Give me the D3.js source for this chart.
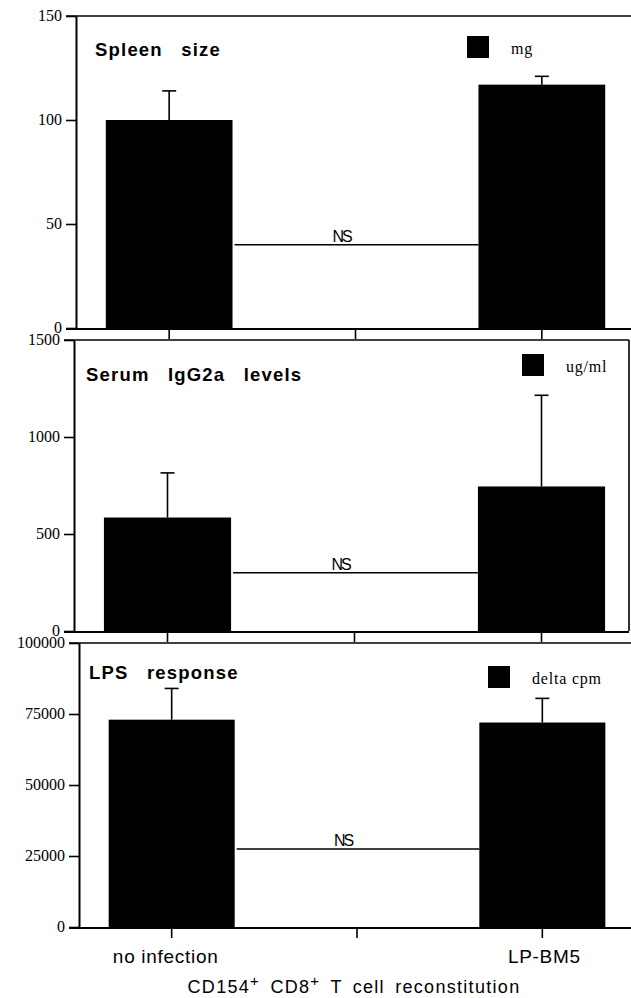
<!DOCTYPE html>
<html>
<head>
<meta charset="utf-8">
<script src="https://cdn.jsdelivr.net/npm/d3@7"></script>
<style>
  body { margin: 0; background: #fff; }
</style>
</head>
<body>
<svg id="chart" width="631" height="998"></svg>
<script>
var categories = ['no infection', 'LP-BM5'];

var spleenValues = [100, 117];
var spleenErrors = [14, 4];
var spleenTicks = [0, 50, 100, 150];

var iggValues = [585, 745];
var iggErrors = [230, 470];
var iggTicks = [0, 500, 1000, 1500];

var lpsValues = [73000, 72000];
var lpsErrors = [11000, 8500];
var lpsTicks = [0, 25000, 50000, 75000, 100000];

var panels = [
    {title: 'Spleen size', unit: 'mg', values: spleenValues, errors: spleenErrors, ticks: spleenTicks,
     max: 150, top: 16, bottom: 328, axisX: 76, titleX: 95, titleY: 56, legendX: 467, legendY: 36, nsY: 40, rightBorder: false},
    {title: 'Serum IgG2a levels', unit: 'ug/ml', values: iggValues, errors: iggErrors, ticks: iggTicks,
     max: 1500, top: 340, bottom: 631, axisX: 74, titleX: 86, titleY: 381, legendX: 522, legendY: 354, nsY: 300, rightBorder: true},
    {title: 'LPS response', unit: 'delta cpm', values: lpsValues, errors: lpsErrors, ticks: lpsTicks,
     max: 100000, top: 643, bottom: 927, axisX: 79, titleX: 89, titleY: 679, legendX: 488, legendY: 666, nsY: 27500, rightBorder: false}
];

var svg = d3.select('#chart');

panels.forEach(function (p) {
    var g = svg.append('g');
    var y = d3.scaleLinear().domain([0, p.max]).range([p.bottom, p.top]);
    var x = d3.scaleBand().domain(categories).range([p.axisX, 635])
        .paddingInner(0.66).paddingOuter(0.08);
    var cx = function (d) { return x(d) + x.bandwidth() / 2; };
    var right = p.rightBorder ? 629 : 631;

    // top border
    g.append('line')
        .attr('x1', p.axisX - 10).attr('x2', right)
        .attr('y1', p.top).attr('y2', p.top)
        .attr('stroke', '#000').attr('stroke-width', 1.6);
    if (p.rightBorder) {
        g.append('line')
            .attr('x1', right).attr('x2', right)
            .attr('y1', p.top).attr('y2', p.bottom)
            .attr('stroke', '#000').attr('stroke-width', 1.6);
    }

    // bars
    g.selectAll('rect.bar').data(categories).enter().append('rect')
        .attr('class', 'bar')
        .attr('x', function (d) { return x(d); })
        .attr('width', x.bandwidth())
        .attr('y', function (d, i) { return y(p.values[i]); })
        .attr('height', function (d, i) { return p.bottom - y(p.values[i]); })
        .attr('fill', '#000');

    // error bars (upper only)
    var err = g.selectAll('g.err').data(categories).enter().append('g').attr('class', 'err');
    err.append('line')
        .attr('x1', cx).attr('x2', cx)
        .attr('y1', function (d, i) { return y(p.values[i]); })
        .attr('y2', function (d, i) { return y(p.values[i] + p.errors[i]); })
        .attr('stroke', '#000').attr('stroke-width', 1.6);
    err.append('line')
        .attr('x1', function (d) { return cx(d) - 7; })
        .attr('x2', function (d) { return cx(d) + 7; })
        .attr('y1', function (d, i) { return y(p.values[i] + p.errors[i]); })
        .attr('y2', function (d, i) { return y(p.values[i] + p.errors[i]); })
        .attr('stroke', '#000').attr('stroke-width', 1.6);

    // NS line
    var nsLeft = x(categories[0]) + x.bandwidth() + 2;
    var nsRight = x(categories[1]);
    g.append('line')
        .attr('x1', nsLeft).attr('x2', nsRight)
        .attr('y1', y(p.nsY)).attr('y2', y(p.nsY))
        .attr('stroke', '#000').attr('stroke-width', 1.5);
    g.append('text')
        .attr('x', (nsLeft + nsRight) / 2 - 24)
        .attr('y', y(p.nsY) - 3)
        .attr('font-family', 'Liberation Sans, Arial, sans-serif')
        .attr('font-size', 16).attr('letter-spacing', -2)
        .text('NS');

    // left axis
    var axis = g.append('g')
        .attr('transform', 'translate(' + p.axisX + ',0)')
        .call(d3.axisLeft(y).tickValues(p.ticks).tickSize(10).tickSizeOuter(0).tickPadding(4)
            .tickFormat(d3.format('d')));
    axis.select('.domain').attr('stroke-width', 2);
    axis.selectAll('.tick line').attr('stroke-width', 1.6);
    axis.selectAll('.tick text')
        .attr('dy', '0.3em')
        .attr('font-family', 'Liberation Serif, serif')
        .attr('font-size', 16)
        .attr('fill', '#000');

    // bottom line and ticks
    g.append('line')
        .attr('x1', p.axisX - 10).attr('x2', right)
        .attr('y1', p.bottom + 1).attr('y2', p.bottom + 1)
        .attr('stroke', '#000').attr('stroke-width', 2);
    var tickXs = [cx(categories[0]), (cx(categories[0]) + cx(categories[1])) / 2, cx(categories[1])];
    g.selectAll('line.xt').data(tickXs).enter().append('line')
        .attr('class', 'xt')
        .attr('x1', function (d) { return d; }).attr('x2', function (d) { return d; })
        .attr('y1', p.bottom + 1).attr('y2', p.bottom + 11)
        .attr('stroke', '#000').attr('stroke-width', 1.6);

    // title
    g.append('text')
        .attr('x', p.titleX)
        .attr('y', p.titleY)
        .attr('font-family', 'Liberation Sans, Arial, sans-serif')
        .attr('font-weight', 'bold').attr('font-size', 18.5)
        .attr('letter-spacing', 1.2).attr('word-spacing', 12)
        .text(p.title);

    // legend
    g.append('rect')
        .attr('x', p.legendX).attr('y', p.legendY)
        .attr('width', 22).attr('height', 22).attr('fill', '#000');
    g.append('text')
        .attr('x', p.legendX + 44).attr('y', p.legendY + 18)
        .attr('font-family', 'Liberation Serif, serif')
        .attr('font-size', 16).attr('letter-spacing', 0.8)
        .text(p.unit);

    p.cx = cx;
});

// category labels
var last = panels[2];
var catShift = [-6, 2];
svg.selectAll('text.cat').data(categories).enter().append('text')
    .attr('class', 'cat')
    .attr('x', function (d, i) { return last.cx(d) + catShift[i]; })
    .attr('y', 963)
    .attr('text-anchor', 'middle')
    .attr('font-family', 'Liberation Sans, Arial, sans-serif')
    .attr('font-size', 19).attr('letter-spacing', 0.7)
    .text(function (d) { return d; });

var xt = svg.append('text')
    .attr('x', 354).attr('y', 993)
    .attr('text-anchor', 'middle')
    .attr('font-family', 'Liberation Sans, Arial, sans-serif')
    .attr('font-size', 18).attr('letter-spacing', 1.3).attr('word-spacing', 4);
xt.append('tspan').text('CD154');
xt.append('tspan').attr('dy', -7).attr('font-size', 15).text('+');
xt.append('tspan').attr('dy', 7).text(' CD8');
xt.append('tspan').attr('dy', -7).attr('font-size', 15).text('+');
xt.append('tspan').attr('dy', 7).text('  T cell reconstitution');
</script>
</body>
</html>
